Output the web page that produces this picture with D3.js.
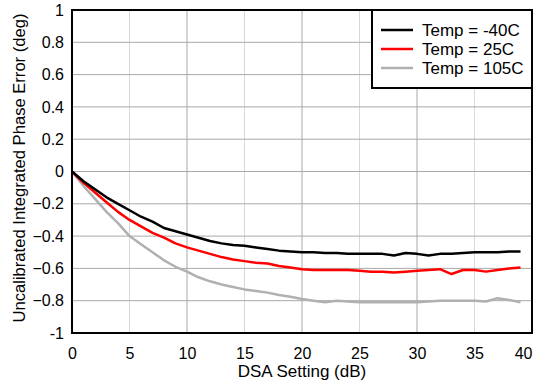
<!DOCTYPE html>
<html><head><meta charset="utf-8">
<script src="https://cdn.jsdelivr.net/npm/d3@7"></script>
<style>body{margin:0;background:#fff;}svg{display:block;font-family:"Liberation Sans",Arial,sans-serif;}</style>
</head><body><svg id="c" width="542" height="388"></svg>
<script>
const dsa = d3.range(0, 40);
const tempM40 = [0,-0.06,-0.11,-0.16,-0.20,-0.24,-0.28,-0.31,-0.35,-0.37,-0.39,-0.41,-0.43,-0.445,-0.455,-0.46,-0.47,-0.48,-0.49,-0.495,-0.50,-0.50,-0.505,-0.505,-0.51,-0.51,-0.51,-0.51,-0.52,-0.505,-0.51,-0.52,-0.51,-0.51,-0.505,-0.50,-0.50,-0.50,-0.495,-0.495];
const temp25 = [0,-0.07,-0.13,-0.19,-0.25,-0.30,-0.34,-0.38,-0.41,-0.445,-0.47,-0.49,-0.51,-0.53,-0.545,-0.555,-0.565,-0.57,-0.585,-0.595,-0.605,-0.61,-0.61,-0.61,-0.61,-0.615,-0.62,-0.62,-0.625,-0.62,-0.615,-0.61,-0.605,-0.635,-0.61,-0.61,-0.62,-0.61,-0.60,-0.595];
const temp105 = [0,-0.09,-0.17,-0.25,-0.32,-0.40,-0.45,-0.50,-0.55,-0.59,-0.62,-0.655,-0.68,-0.70,-0.715,-0.73,-0.74,-0.75,-0.765,-0.775,-0.79,-0.80,-0.81,-0.80,-0.805,-0.81,-0.81,-0.81,-0.81,-0.81,-0.81,-0.805,-0.80,-0.80,-0.80,-0.80,-0.805,-0.785,-0.795,-0.81];
const seriesNames = ["Temp = -40C","Temp = 25C","Temp = 105C"];
const seriesColors = ["#000000","#ff0000","#b0b0b0"];
const xTicks = [0,5,10,15,20,25,30,35,40];
const yTicks = [-1,-0.8,-0.6,-0.4,-0.2,0,0.2,0.4,0.6,0.8,1];
const series = [tempM40, temp25, temp105];

const svg = d3.select("#c");
const L=72, R=532, T=10, B=333;
const x = d3.scaleLinear().domain([0,40]).range([L,R]);
const y = d3.scaleLinear().domain([-1,1]).range([B,T]);
const FONT = "Liberation Sans, Arial, sans-serif";

// grid
svg.append("g").selectAll("line").data(xTicks.slice(1,-1)).join("line")
  .attr("x1",d=>x(d)).attr("x2",d=>x(d)).attr("y1",T).attr("y2",B)
  .attr("stroke",d=>d%10===0?"#a8a8a8":"#d8d8d8").attr("stroke-width",1);
svg.append("g").selectAll("line").data(yTicks.slice(1,-1)).join("line")
  .attr("y1",d=>y(d)).attr("y2",d=>y(d)).attr("x1",L).attr("x2",R)
  .attr("stroke","#a8a8a8").attr("stroke-width",1);

// axes labels
const xAxis = d3.axisBottom(x).tickValues(xTicks).tickSize(0).tickPadding(15).tickFormat(d3.format("d"));
const gx = svg.append("g").attr("transform",`translate(0,${B})`).call(xAxis);
gx.select(".domain").remove();
gx.selectAll("text").attr("font-size",16).attr("fill","#000").attr("font-family",FONT);
gx.selectAll(".tick").filter(d=>d===40).select("text").attr("text-anchor","end").attr("x",0);
const yAxis = d3.axisLeft(y).tickValues(yTicks).tickSize(0).tickPadding(8)
  .tickFormat(d=>d===0?"0":(Math.abs(d)===1?String(d):d3.format(".1f")(d)));
const gy = svg.append("g").attr("transform",`translate(${L},0)`).call(yAxis);
gy.select(".domain").remove();
gy.selectAll("text").attr("font-size",16).attr("fill","#000").attr("font-family",FONT);

// lines
const line = d3.line().x((d,i)=>x(dsa[i])).y(d=>y(d));
series.slice().reverse().forEach((s,k)=>{
  const i = series.length-1-k;
  svg.append("path").datum(s).attr("d",line).attr("fill","none")
    .attr("stroke",seriesColors[i]).attr("stroke-width",2.5).attr("stroke-linejoin","round");
});

// frame
svg.append("rect").attr("x",L).attr("y",T).attr("width",R-L).attr("height",B-T)
  .attr("fill","none").attr("stroke","#000").attr("stroke-width",2);

// axis titles
svg.append("text").attr("x",(L+R)/2).attr("y",377).attr("text-anchor","middle")
  .attr("font-size",17).text("DSA Setting (dB)");
svg.append("text").attr("transform",`translate(25,168) rotate(-90)`).attr("text-anchor","middle")
  .attr("font-size",16.6).text("Uncalibrated Integrated Phase Error (deg)");

// legend
const lg = svg.append("g");
lg.append("rect").attr("x",372).attr("y",T).attr("width",R-372).attr("height",78)
  .attr("fill","#fff").attr("stroke","#000").attr("stroke-width",2);
seriesNames.forEach((n,i)=>{
  const yy = 30 + i*19;
  lg.append("line").attr("x1",381).attr("x2",413).attr("y1",yy).attr("y2",yy)
    .attr("stroke",seriesColors[i]).attr("stroke-width",2.5);
  lg.append("text").attr("x",422).attr("y",yy+6).attr("font-size",17).text(n);
});
</script></body></html>
